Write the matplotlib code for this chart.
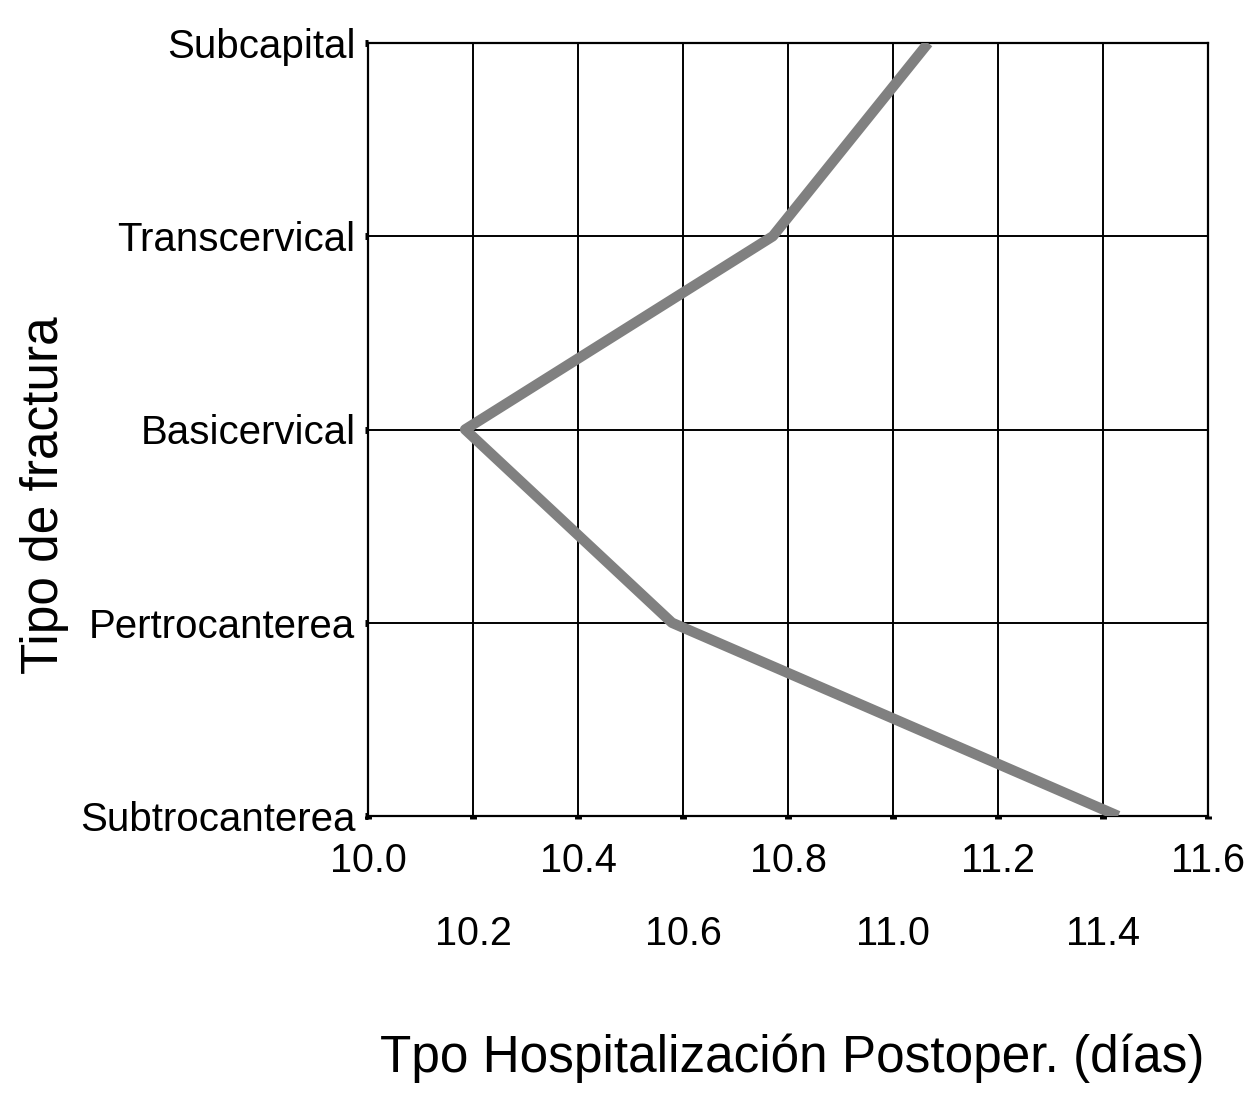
import matplotlib.pyplot as plt
import numpy as np

fracturas = ['Subcapital', 'Transcervical', 'Basicervical', 'Pertrocanterea', 'Subtrocanterea']
dias = [11.067, 10.771, 10.185, 10.579, 11.429]
x_ticks = [10.0, 10.2, 10.4, 10.6, 10.8, 11.0, 11.2, 11.4, 11.6]

plt.rcParams['font.family'] = ['Liberation Sans', 'DejaVu Sans']

fig = plt.figure(figsize=(12.54, 10.95), dpi=100)
ax = fig.add_axes([368 / 1254, 1 - 816 / 1095, 840 / 1254, 773 / 1095])

# categories from top to bottom
y = np.arange(len(fracturas))[::-1]
ax.plot(dias, y, color='#808080', lw=7.5, solid_capstyle='butt', zorder=3)

ax.set_xlim(10.0, 11.6)
ax.set_ylim(0, len(fracturas) - 1)
ax.set_yticks(y)
ax.set_yticklabels(fracturas, fontsize=29)
ax.set_xticks(x_ticks)
# staggered tick labels in two rows
labels = [f'{t:.1f}' if i % 2 == 0 else f'\n{t:.1f}' for i, t in enumerate(x_ticks)]
ax.set_xticklabels(labels, fontsize=28.5)
for lab in ax.get_xticklabels():
    lab.set_linespacing(2.15)

ax.grid(True, color='black', lw=1.4)
for s in ax.spines.values():
    s.set_linewidth(1.6)
ax.tick_params(axis='x', length=2, width=5, pad=17)
ax.tick_params(axis='y', length=2, width=5, pad=7)

fig.text(792 / 1254, 1 - 1058 / 1095, 'Tpo Hospitalización Postoper. (días)',
         fontsize=37, ha='center', va='center')
fig.text(45 / 1254, 1 - 495 / 1095, 'Tipo de fractura', fontsize=37,
         rotation=90, ha='center', va='center')

fig.savefig('out.png', dpi=100, facecolor='white')
